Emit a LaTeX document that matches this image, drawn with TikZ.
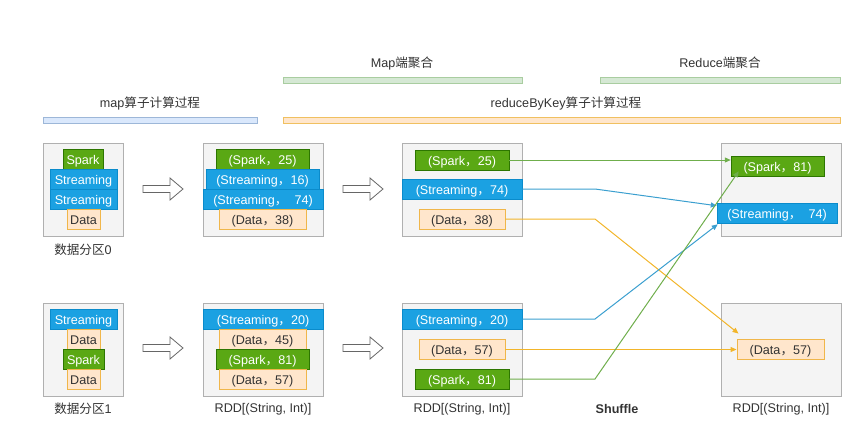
\documentclass[tikz,border=0pt]{standalone}
\usepackage{fontspec}
\setmainfont{Liberation Sans}
\newfontfamily\cjk{Noto Sans CJK SC}
\newcommand{\fc}{{\cjk ，}}
\usetikzlibrary{calc,arrows.meta}
\definecolor{gfill}{HTML}{5AA814}
\definecolor{gdraw}{HTML}{2D7600}
\definecolor{bfill}{HTML}{1BA1E2}
\definecolor{bdraw}{HTML}{0A8BCB}
\definecolor{ofill}{HTML}{FFE6CC}
\definecolor{odraw}{HTML}{F0B64A}
\definecolor{cfill}{HTML}{F4F4F4}
\definecolor{cdraw}{HTML}{B0B0B0}
\definecolor{lgreen}{HTML}{6FAE4C}
\definecolor{lblue}{HTML}{3B9FCF}
\definecolor{lorange}{HTML}{F2B52A}
\definecolor{barblue}{HTML}{DAE8FC}
\definecolor{barbluedraw}{HTML}{9DB7D8}
\definecolor{bargreen}{HTML}{D5E8D4}
\definecolor{bargreendraw}{HTML}{A9CDA0}
\definecolor{barorange}{HTML}{FFE6CC}
\definecolor{barorangedraw}{HTML}{F0C060}
\definecolor{tdark}{HTML}{333333}
\begin{document}
\begin{tikzpicture}[x=1pt,y=-1pt,
  every node/.style={font=\fontsize{12.6}{15}\selectfont, text=tdark},
  container/.style={draw=cdraw, fill=cfill, line width=0.9pt, minimum width=80pt, minimum height=93pt, inner sep=0pt},
  bigcont/.style={container, minimum width=120pt},
  itembox/.style={minimum height=20pt, inner sep=0pt, text height=11pt, text depth=1pt},
  gbox/.style={itembox, draw=gdraw, fill=gfill, line width=0.5pt, text=white},
  bbox/.style={itembox, draw=bdraw, fill=bfill, line width=0.5pt, text=white},
  obox/.style={itembox, draw=odraw, fill=ofill, line width=0.9pt, text=tdark},
  hbar/.style={minimum height=6pt, inner sep=0pt, line width=0.6pt},
  lbl/.style={inner sep=0pt},
  conn/.style={line width=1pt, -{Triangle[length=6pt,width=5pt]}},
  blockarrow/.style={draw=black!60, fill=white, line width=0.8pt}
]
\useasboundingbox (0,0) rectangle (865,432);

% header bars
\node[hbar, draw=barbluedraw, fill=barblue, minimum width=214pt] (barmap) at (150,120) {};
\node[lbl] (lmap) at (150,103) {map{\cjk 算子计算过程}};
\node[hbar, draw=bargreendraw, fill=bargreen, minimum width=239pt] (barmside) at (402.5,80) {};
\node[lbl] (lmside) at (402,63) {Map{\cjk 端聚合}};
\node[hbar, draw=bargreendraw, fill=bargreen, minimum width=240pt] (barrside) at (720,80) {};
\node[lbl] (lrside) at (720,63) {Reduce{\cjk 端聚合}};
\node[hbar, draw=barorangedraw, fill=barorange, minimum width=557pt] (barrbk) at (561.5,120) {};
\node[lbl] (lrbk) at (566,103) {reduceByKey{\cjk 算子计算过程}};

% containers
\node[container] (A0) at (83,189.5) {};
\node[bigcont] (B0) at (263,189.5) {};
\node[bigcont] (C0) at (462,189.5) {};
\node[bigcont] (D0) at (781,189.5) {};
\node[container] (A1) at (83,349.5) {};
\node[bigcont] (B1) at (263,349.5) {};
\node[bigcont] (C1) at (462,349.5) {};
\node[bigcont] (D1) at (781,349.5) {};

% partition 0
\node[gbox, minimum width=40pt] (a0s) at (83,159) {Spark};
\node[bbox, minimum width=67pt] (a0t1) at (83.5,179) {Streaming};
\node[bbox, minimum width=67pt] (a0t2) at (83.5,199) {Streaming};
\node[obox, minimum width=33pt] (a0d) at (83.5,219) {Data};
% partition 1
\node[bbox, minimum width=67pt] (a1t) at (83.5,319) {Streaming};
\node[obox, minimum width=33pt] (a1d1) at (83.5,339) {Data};
\node[gbox, minimum width=41pt] (a1s) at (83.5,359) {Spark};
\node[obox, minimum width=33pt] (a1d2) at (83.5,379) {Data};

% B0
\node[gbox, minimum width=93pt] (b0s) at (262.5,159) {(Spark\fc 25)};
\node[bbox, minimum width=113pt] (b0t1) at (262.5,179) {(Streaming\fc 16)};
\node[bbox, minimum width=120pt] (b0t2) at (263,199) {(Streaming\fc\ \ 74)};
\node[obox, minimum width=87pt] (b0d) at (262.5,219) {(Data\fc 38)};
% B1
\node[bbox, minimum width=120pt] (b1t) at (263,319) {(Streaming\fc 20)};
\node[obox, minimum width=87pt] (b1d1) at (262.5,339) {(Data\fc 45)};
\node[gbox, minimum width=93pt] (b1s) at (262.5,359) {(Spark\fc 81)};
\node[obox, minimum width=87pt] (b1d2) at (262.5,379) {(Data\fc 57)};

% C0
\node[gbox, minimum width=94pt] (c0s) at (462,160) {(Spark\fc 25)};
\node[bbox, minimum width=120pt] (c0t) at (462,189) {(Streaming\fc 74)};
\node[obox, minimum width=86pt] (c0d) at (462,219) {(Data\fc 38)};
% C1
\node[bbox, minimum width=120pt] (c1t) at (462,319) {(Streaming\fc 20)};
\node[obox, minimum width=86pt] (c1d) at (462,349) {(Data\fc 57)};
\node[gbox, minimum width=94pt] (c1s) at (462,379) {(Spark\fc 81)};

% D0 / D1
\node[gbox, minimum width=93pt] (d0s) at (777.5,166) {(Spark\fc 81)};
\node[bbox, minimum width=120pt] (d0t) at (777,213) {(Streaming\fc\ \ 74)};
\node[obox, minimum width=87pt] (d1d) at (780.5,349) {(Data\fc 57)};

% labels
\node[lbl] (lA0) at (83,250) {{\cjk 数据分区}0};
\node[lbl] (lA1) at (83,409) {{\cjk 数据分区}1};
\node[lbl] (lB1) at (263,409) {RDD[(String, Int)]};
\node[lbl] (lC1) at (462,409) {RDD[(String, Int)]};
\node[lbl] (lD1) at (781,409) {RDD[(String, Int)]};
\node[lbl, font=\fontsize{12.6}{15}\selectfont\bfseries] (lsh) at (617,409) {Shuffle};

% block arrows
\foreach \x/\y in {143/189, 343/189, 143/348, 343/348}{
  \draw[blockarrow] (\x,\y-3.5) -- (\x+27,\y-3.5) -- (\x+27,\y-11) -- (\x+40,\y) -- (\x+27,\y+11) -- (\x+27,\y+3.5) -- (\x,\y+3.5) -- cycle;
}

% shuffle connectors
\coordinate (kx) at (595,0);
\draw[conn, lgreen] (c0s.east) -- (c0s.east -| d0s.west);
\draw[conn, lblue] (c0t.east) -- (c0t.east -| kx) -- ($(d0t.north west)+(0,3)$);
\draw[conn, lorange] (c0d.east) -- (c0d.east -| kx) -- ($(d1d.north west)+(2,-5)$);
\draw[conn, lblue] (c1t.east) -- (c1t.east -| kx) -- ($(d0t.south west)+(1,1)$);
\draw[conn, lorange] ([yshift=-0.5pt]c1d.east) -- ([yshift=-0.5pt]d1d.west);
\draw[conn, lgreen] (c1s.east) -- (c1s.east -| kx) -- ($(d0s.south west)+(8,-5)$);
\end{tikzpicture}
\end{document}
